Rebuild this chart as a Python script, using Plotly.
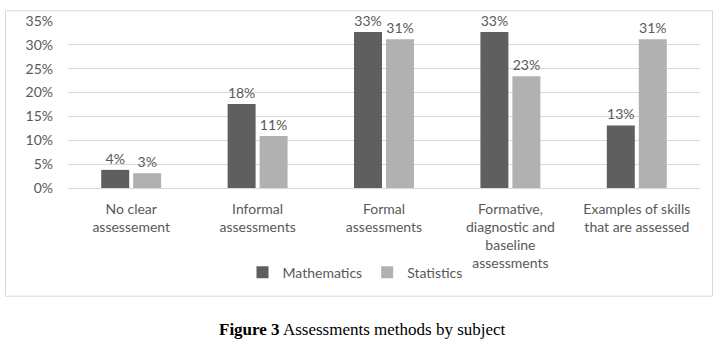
import plotly.graph_objects as go

categories = ["No clear<br>assessement", "Informal<br>assessments", "Formal<br>assessments",
              "Formative,<br>diagnostic and<br>baseline<br>assessments",
              "Examples of skills<br>that are assessed"]
mathematics = [0.038, 0.176, 0.327, 0.327, 0.131]
statistics = [0.031, 0.109, 0.312, 0.234, 0.312]
y_ticks = [0, 0.05, 0.10, 0.15, 0.20, 0.25, 0.30, 0.35]

W, H = 722, 348
L, R, T, B = 68, 700, 21.3, 188.3
pw, ph = R - L, B - T

def px(x):
    return (x - L) / pw

def py(y):
    return (B - y) / ph

FONT = "Lato"
TXT = "#595959"

fig = go.Figure()
fig.add_trace(go.Bar(x=categories, y=mathematics, name="Mathematics",
                     marker=dict(color="#5f5f5f", line=dict(width=0)),
                     texttemplate="%{y:.0%}", textposition="outside",
                     textfont=dict(family=FONT, size=14, color=TXT), cliponaxis=False))
fig.add_trace(go.Bar(x=categories, y=statistics, name="Statistics",
                     marker=dict(color="#b1b1b1", line=dict(width=0)),
                     texttemplate="%{y:.0%}", textposition="outside",
                     textfont=dict(family=FONT, size=14, color=TXT), cliponaxis=False))

fig.update_layout(
    width=W, height=H,
    margin=dict(l=L, r=W - R, t=T, b=H - B, pad=0, autoexpand=False),
    paper_bgcolor="white", plot_bgcolor="white",
    barmode="group", bargap=0.494, bargroupgap=0.125,
    font=dict(family=FONT, size=14, color=TXT),
    showlegend=True,
    legend=dict(orientation="h", x=px(355), xanchor="center", y=py(273), yanchor="middle",
                font=dict(family=FONT, size=14, color=TXT), itemwidth=30,
                bgcolor="rgba(0,0,0,0)", tracegroupgap=0),
    yaxis=dict(range=[0, 0.35], tickvals=y_ticks, tickformat=".0%", showgrid=True,
               gridcolor="#d9d9d9", gridwidth=1, zeroline=False, showline=False,
               ticks="", ticklabelstandoff=14, fixedrange=True, automargin=False),
    xaxis=dict(showline=True, linecolor="#d9d9d9", linewidth=1, ticks="",
               ticklabelstandoff=8, tickangle=0, fixedrange=True, automargin=False),
    shapes=[dict(type="rect", xref="paper", yref="paper",
                 x0=px(5.5), x1=px(712.5), y0=py(296.5), y1=py(11),
                 line=dict(color="#d9d9d9", width=1), fillcolor="rgba(0,0,0,0)", layer="below")],
    annotations=[dict(text="<b>Figure 3</b> Assessments methods by subject", xref="paper", yref="paper",
                      x=px(217), y=py(330), xanchor="left", yanchor="middle", showarrow=False,
                      font=dict(family="Liberation Serif", size=17, color="black"))],
)

fig.write_html("out.html", config={"displayModeBar": False},
               post_script="document.body.style.margin='0';document.body.style.overflow='hidden';")
